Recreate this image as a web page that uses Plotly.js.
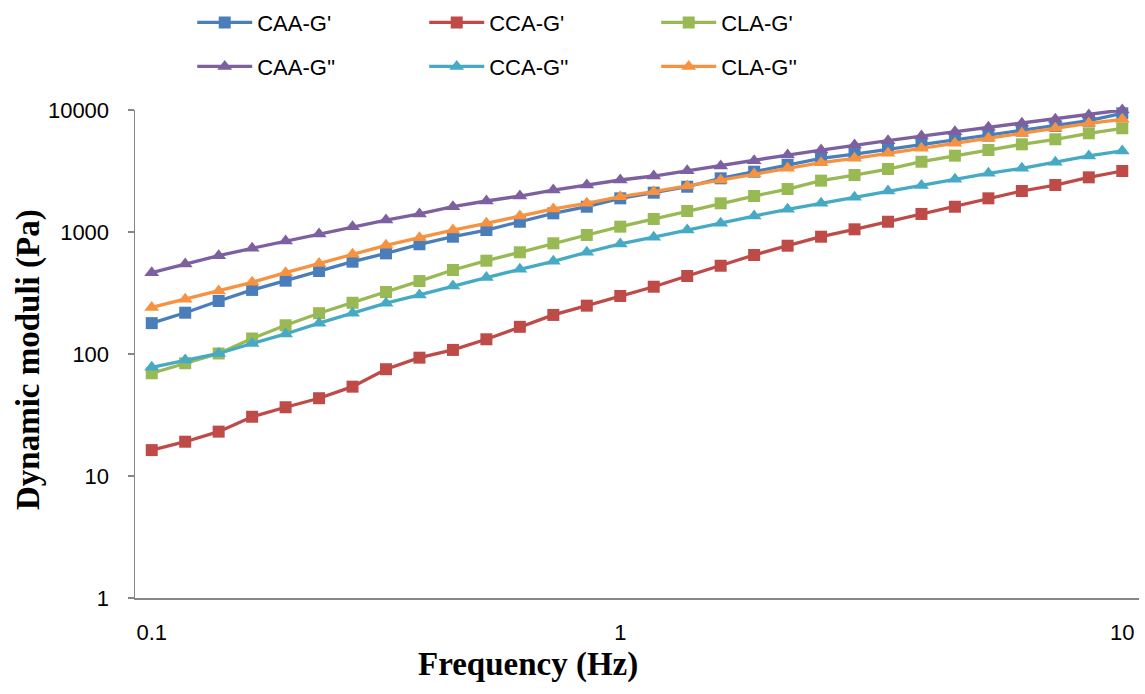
<!DOCTYPE html>
<html>
<head>
<meta charset="utf-8">
<script src="https://cdn.plot.ly/plotly-3.0.1.min.js"></script>
<style>html,body{margin:0;padding:0;background:#fff;}#chart{width:1145px;height:694px;}</style>
</head>
<body>
<div id="chart"></div>
<script>
// Frequency categories (Hz)
var frequency = ['0.1','0.118','0.139','0.164','0.193','0.228','0.268','0.316','0.373','0.439','0.518','0.611','0.72','0.848','1','1.166','1.359','1.585','1.848','2.154','2.512','2.929','3.415','3.981','4.642','5.412','6.31','7.356','8.577','10'];
var xTickLabels = ['0.1','1','10'];
var yTickValues = [1, 10, 100, 1000, 10000];

var CAA_Gp  = [179,218,272,335,399,479,571,668,793,915,1038,1214,1422,1611,1888,2100,2350,2754,3121,3540,4018,4355,4764,5164,5675,6166,6776,7396,8166,9397];
var CCA_Gp  = [16.3,19.1,23.1,30.6,36.6,43.4,54.0,75.0,93.3,108,132,167,209,249,299,356,436,529,648,772,915,1052,1214,1406,1611,1888,2168,2427,2805,3162];
var CLA_Gp  = [69.5,84,101,134,172,216,263,322,396,488,582,682,808,945,1106,1279,1487,1719,1972,2250,2636,2931,3283,3767,4223,4699,5233,5754,6442,7080];
var CAA_Gpp = [464,547,640,735,843,963,1104,1253,1406,1611,1795,1972,2208,2427,2668,2877,3184,3475,3839,4276,4699,5164,5602,6118,6637,7213,7780,8395,9104,10000];
var CCA_Gpp = [77.8,89.3,101,122,146,179,216,261,305,361,423,494,575,682,798,906,1038,1178,1352,1535,1719,1923,2168,2400,2704,3027,3327,3724,4198,4613];
var CLA_Gpp = [241,281,328,387,464,553,656,778,898,1038,1178,1352,1544,1719,1947,2140,2383,2667,2987,3327,3700,4018,4416,4853,5333,5861,6442,7080,7780,8395];

var seriesNames = ["CAA-G'", "CCA-G'", "CLA-G'", "CAA-G''", "CCA-G''", "CLA-G''"];
var seriesData = [CAA_Gp, CCA_Gp, CLA_Gp, CAA_Gpp, CCA_Gpp, CLA_Gpp];
var seriesColors = ['#4A7EBB', '#BE4B48', '#98B954', '#7D60A0', '#46AAC5', '#F69240'];
var seriesSymbols = ['square', 'square', 'square', 'triangle-up', 'triangle-up', 'triangle-up'];

var traces = seriesNames.map(function(name, k) {
  var tri = seriesSymbols[k] === 'triangle-up';
  return {
    type: 'scatter',
    mode: 'lines+markers',
    name: name,
    x: frequency,
    y: seriesData[k],
    legend: k < 3 ? 'legend' : 'legend2',
    cliponaxis: false,
    line: {color: seriesColors[k], width: 3.3},
    marker: {symbol: seriesSymbols[k], size: tri ? 13 : 12, color: seriesColors[k], line: {width: 0}}
  };
});

var tickFont = {family: "'Liberation Sans', Arial, sans-serif", size: 22, color: '#000'};
var titleFont = {family: "'Liberation Serif', 'Times New Roman', serif", size: 33, color: '#000', weight: 'bold'};
var legendCommon = {
  orientation: 'h', xref: 'paper', yref: 'paper', xanchor: 'left', yanchor: 'top',
  font: tickFont, entrywidth: 162, entrywidthmode: 'pixels', itemwidth: 55,
  bgcolor: 'rgba(0,0,0,0)', borderwidth: 0, tracegroupgap: 0, itemclick: false
};

var layout = {
  width: 1145, height: 694,
  margin: {l: 135, r: 6, t: 110, b: 96, pad: 0, autoexpand: false},
  paper_bgcolor: '#fff', plot_bgcolor: '#fff',
  showlegend: true,
  legend: Object.assign({}, legendCommon, {x: 0.057, y: 1.222}),
  legend2: Object.assign({}, legendCommon, {x: 0.057, y: 1.132}),
  xaxis: {
    type: 'category',
    range: [-0.5, frequency.length - 0.5],
    tickmode: 'array', tickvals: xTickLabels, ticktext: xTickLabels,
    ticks: '', showgrid: false, zeroline: false,
    showline: true, linecolor: '#868686', linewidth: 1.5,
    tickfont: tickFont, ticklabelstandoff: 14, automargin: false
  },
  yaxis: {
    type: 'log', range: [0, 4],
    tickmode: 'array', tickvals: yTickValues, ticktext: yTickValues.map(String),
    ticks: 'outside', ticklen: 6, tickcolor: '#868686', tickwidth: 1.5,
    showgrid: false, zeroline: false,
    showline: true, linecolor: '#868686', linewidth: 1.5,
    tickfont: tickFont, ticklabelstandoff: 14, automargin: false
  },
  annotations: [
    {text: 'Frequency (Hz)', xref: 'paper', yref: 'paper', x: (528 - 135) / 1004, y: -(664 - 598) / 488,
     xanchor: 'center', yanchor: 'middle', showarrow: false, font: titleFont},
    {text: 'Dynamic moduli (Pa)', xref: 'paper', yref: 'paper', x: (28 - 135) / 1004, y: 1 - (360 - 110) / 488,
     xanchor: 'center', yanchor: 'middle', textangle: -90, showarrow: false, font: titleFont}
  ]
};

Plotly.newPlot('chart', traces, layout, {displayModeBar: false, staticPlot: true});
</script>
</body>
</html>
